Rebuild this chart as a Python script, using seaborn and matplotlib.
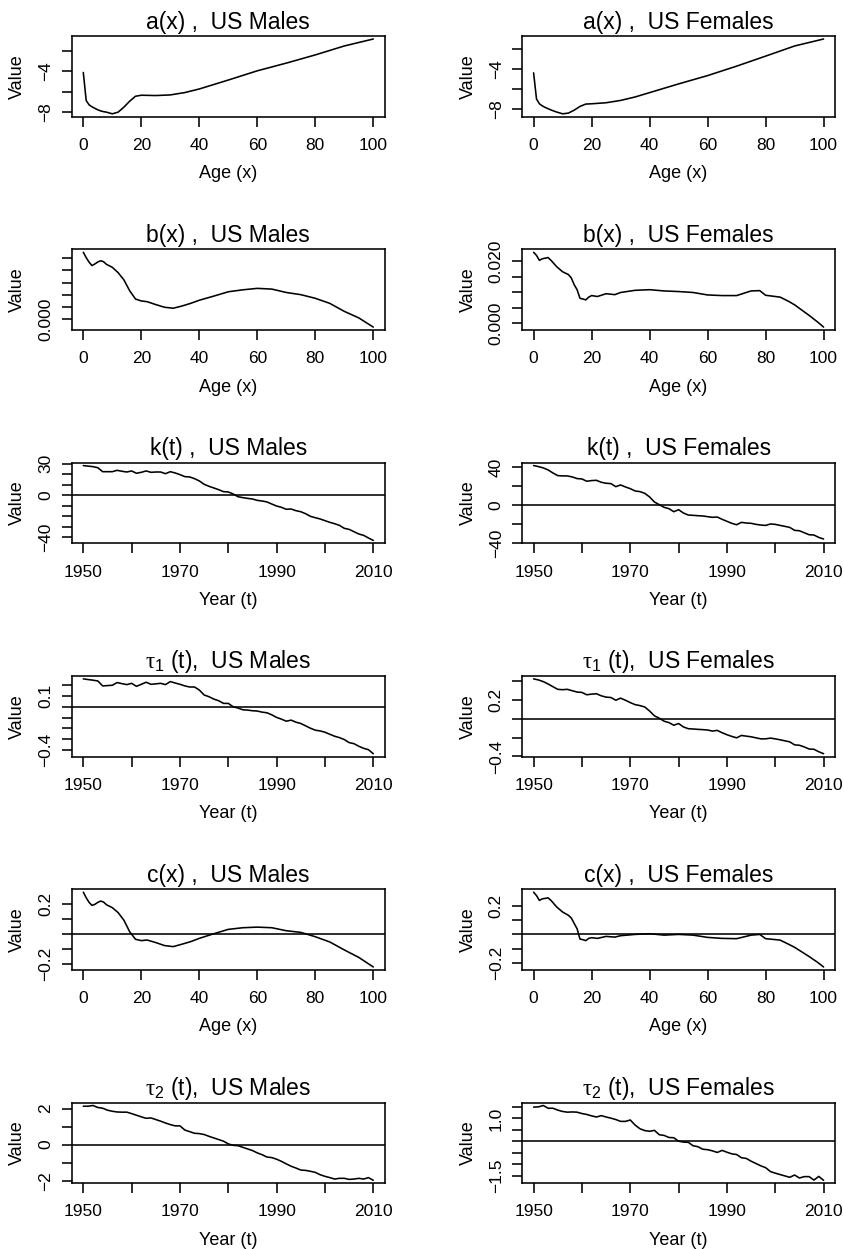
import matplotlib
matplotlib.use("Agg")
import matplotlib.pyplot as plt
import seaborn as sns
import numpy as np
import pandas as pd

# ---------------- data ----------------
age_a_m = [0, 1, 2, 3, 4, 5, 6, 7, 8, 10, 12, 14, 16, 18, 20, 25, 30, 35, 40, 50, 60, 70, 80, 90, 100]
ax_m = [-4.10, -6.84, -7.26, -7.45, -7.60, -7.74, -7.85, -7.92, -7.97, -8.13, -7.97, -7.48, -6.90,
        -6.42, -6.32, -6.35, -6.29, -6.06, -5.71, -4.84, -3.94, -3.19, -2.39, -1.52, -0.84]
age_a_f = [0, 1, 2, 3, 4, 5, 6, 7, 8, 10, 12, 14, 16, 18, 20, 25, 30, 35, 40, 50, 60, 70, 80, 90, 100]
ax_f = [-4.39, -6.97, -7.44, -7.65, -7.80, -7.93, -8.05, -8.16, -8.26, -8.43, -8.36, -8.07, -7.70,
        -7.47, -7.44, -7.34, -7.11, -6.77, -6.34, -5.48, -4.66, -3.73, -2.74, -1.74, -1.05]

age_b_m = [0, 1, 2, 3, 4, 5, 6, 7, 8, 10, 12, 14, 16, 18, 20, 22, 25, 28, 31, 34, 37, 40, 45, 50,
           55, 60, 65, 70, 75, 80, 85, 90, 95, 100]
bx_m = [0.0275, 0.0253, 0.0234, 0.0220, 0.0227, 0.0235, 0.0240, 0.0236, 0.0225, 0.0213, 0.0191,
        0.0161, 0.0116, 0.0082, 0.0074, 0.0071, 0.0059, 0.0048, 0.0044, 0.0053, 0.0064, 0.0077,
        0.0094, 0.0112, 0.0120, 0.0126, 0.0123, 0.0109, 0.0100, 0.0085, 0.0064, 0.0031, 0.0004, -0.0034]
age_b_f = [0, 1, 2, 3, 5, 6, 8, 10, 12, 13, 14, 15, 16, 17, 18, 19, 20, 22, 25, 28, 30, 35, 40, 45,
           50, 55, 60, 65, 70, 75, 78, 80, 85, 88, 90, 95, 98, 100]
bx_f = [0.0229, 0.0219, 0.0203, 0.0208, 0.0212, 0.0203, 0.0182, 0.0166, 0.0157, 0.0146, 0.0124,
        0.0108, 0.0080, 0.0078, 0.0075, 0.0084, 0.0089, 0.0086, 0.0095, 0.0092, 0.0099, 0.0106,
        0.0108, 0.0104, 0.0102, 0.0099, 0.0091, 0.0089, 0.0089, 0.0104, 0.0105, 0.0090, 0.0084,
        0.0070, 0.0059, 0.0025, 0.0003, -0.0013]

years = list(range(1950, 2011))
kt_m = [28.3, 27.8, 27.3, 26.3, 22.5, 22.5, 22.5, 23.8, 22.9, 22.2, 23.2, 21.0, 21.9, 23.2, 21.9,
        22.2, 22.2, 20.6, 22.5, 21.3, 19.7, 17.8, 17.5, 15.9, 13.7, 10.5, 8.6, 7.0, 5.4, 3.5, 3.2,
        1.3, -1.3, -2.2, -2.9, -3.5, -4.8, -5.4, -6.3, -8.3, -10.2, -11.4, -13.3, -13.0, -14.6,
        -15.6, -17.5, -20.0, -21.3, -22.5, -24.1, -25.7, -27.0, -28.6, -31.4, -32.4, -34.6, -36.8,
        -38.1, -40.6, -42.9]
kt_f = [41.8, 40.7, 39.3, 37.2, 34.0, 31.2, 30.9, 30.9, 29.8, 28.1, 27.7, 25.3, 26.0, 26.3, 24.2,
        23.2, 22.8, 19.6, 21.4, 19.3, 17.5, 15.1, 14.4, 12.6, 8.8, 3.5, 0.7, -2.1, -3.5, -6.7, -4.6,
        -8.1, -10.2, -10.5, -10.9, -11.2, -11.9, -12.6, -12.3, -14.7, -16.8, -18.9, -20.4, -17.9,
        -18.6, -18.9, -20.0, -20.7, -21.1, -19.6, -20.0, -21.1, -22.1, -23.2, -26.3, -26.7, -28.8,
        -30.9, -31.2, -33.7, -35.4]
tau1_m = [0.258, 0.252, 0.246, 0.239, 0.193, 0.196, 0.199, 0.224, 0.214, 0.205, 0.217, 0.189,
          0.208, 0.227, 0.208, 0.212, 0.217, 0.205, 0.233, 0.220, 0.208, 0.193, 0.183, 0.183, 0.155,
          0.109, 0.093, 0.071, 0.056, 0.031, 0.031, 0.000, -0.012, -0.028, -0.031, -0.037, -0.040,
          -0.050, -0.056, -0.075, -0.099, -0.115, -0.134, -0.124, -0.143, -0.155, -0.177, -0.199,
          -0.217, -0.224, -0.236, -0.255, -0.273, -0.286, -0.304, -0.332, -0.342, -0.366, -0.385,
          -0.398, -0.435]
tau1_f = [0.425, 0.414, 0.396, 0.371, 0.342, 0.314, 0.310, 0.314, 0.299, 0.285, 0.281, 0.256,
          0.263, 0.267, 0.245, 0.231, 0.227, 0.198, 0.220, 0.198, 0.173, 0.151, 0.141, 0.126, 0.083,
          0.032, 0.007, -0.025, -0.040, -0.068, -0.050, -0.086, -0.105, -0.108, -0.112, -0.115,
          -0.119, -0.130, -0.123, -0.148, -0.169, -0.187, -0.202, -0.177, -0.184, -0.191, -0.202,
          -0.213, -0.213, -0.205, -0.213, -0.223, -0.234, -0.245, -0.277, -0.281, -0.299, -0.321,
          -0.324, -0.350, -0.371]

age_c_m = [0, 1, 2, 3, 4, 5, 6, 7, 8, 10, 12, 14, 16, 18, 20, 22, 25, 28, 31, 34, 37, 40, 45, 50,
           55, 60, 65, 70, 75, 80, 85, 90, 95, 100]
cx_m = [0.277, 0.240, 0.209, 0.189, 0.196, 0.209, 0.218, 0.211, 0.193, 0.174, 0.141, 0.090, 0.013,
        -0.037, -0.046, -0.042, -0.059, -0.079, -0.086, -0.070, -0.053, -0.031, 0.000, 0.029,
        0.040, 0.044, 0.040, 0.020, 0.009, -0.020, -0.055, -0.108, -0.158, -0.222]
age_c_f = [0, 1, 2, 3, 5, 6, 8, 10, 12, 13, 14, 15, 16, 17, 18, 19, 20, 22, 25, 28, 30, 35, 40, 45,
           50, 55, 60, 65, 70, 75, 78, 80, 85, 88, 90, 95, 98, 100]
cx_f = [0.298, 0.274, 0.240, 0.251, 0.258, 0.240, 0.193, 0.158, 0.135, 0.116, 0.077, 0.040, -0.033,
        -0.037, -0.044, -0.028, -0.023, -0.028, -0.014, -0.019, -0.009, 0.000, 0.005, -0.005, 0.000,
        -0.005, -0.021, -0.028, -0.030, -0.005, 0.000, -0.030, -0.040, -0.070, -0.091, -0.156,
        -0.198, -0.230]

tau2_m = [2.13, 2.13, 2.17, 2.06, 2.02, 1.91, 1.85, 1.81, 1.80, 1.80, 1.72, 1.63, 1.54, 1.46, 1.48,
          1.39, 1.30, 1.20, 1.11, 1.04, 1.04, 0.81, 0.72, 0.63, 0.61, 0.56, 0.46, 0.37, 0.28, 0.19,
          0.04, -0.04, -0.06, -0.15, -0.24, -0.33, -0.46, -0.56, -0.69, -0.72, -0.81, -0.93, -1.07,
          -1.20, -1.30, -1.41, -1.43, -1.48, -1.54, -1.67, -1.76, -1.83, -1.91, -1.87, -1.87, -1.93,
          -1.91, -1.87, -1.91, -1.83, -1.98]
tau2_f = [1.49, 1.50, 1.56, 1.44, 1.44, 1.36, 1.30, 1.27, 1.28, 1.27, 1.21, 1.17, 1.11, 1.06, 1.12,
          1.06, 1.01, 0.95, 0.87, 0.87, 0.93, 0.71, 0.55, 0.47, 0.44, 0.48, 0.29, 0.26, 0.17, 0.16,
          0.01, -0.03, -0.04, -0.19, -0.23, -0.34, -0.36, -0.41, -0.48, -0.39, -0.47, -0.54, -0.57,
          -0.71, -0.74, -0.86, -0.96, -1.06, -1.14, -1.31, -1.38, -1.44, -1.50, -1.56, -1.46, -1.59,
          -1.53, -1.53, -1.68, -1.52, -1.69]

age_ticks = [0, 20, 40, 60, 80, 100]
age_labels = ["0", "20", "40", "60", "80", "100"]
year_ticks = [1950, 1960, 1970, 1980, 1990, 2000, 2010]
year_labels = ["1950", "", "1970", "", "1990", "", "2010"]

titles = [
    ("a(x) ,  US Males", "a(x) ,  US Females"),
    ("b(x) ,  US Males", "b(x) ,  US Females"),
    ("k(t) ,  US Males", "k(t) ,  US Females"),
    (r"$\mathrm{\tau}_{\mathsf{1}}$ (t),  US Males", r"$\mathrm{\tau}_{\mathsf{1}}$ (t),  US Females"),
    ("c(x) ,  US Males", "c(x) ,  US Females"),
    (r"$\mathrm{\tau}_{\mathsf{2}}$ (t),  US Males", r"$\mathrm{\tau}_{\mathsf{2}}$ (t),  US Females"),
]

M = "\u2212"
panels = [
    [(age_a_m, ax_m, "age", [-8, -6, -4, -2], [M + "8", "", M + "4", ""], False),
     (age_a_f, ax_f, "age", [-8, -6, -4, -2], [M + "8", "", M + "4", ""], False)],
    [(age_b_m, bx_m, "age", [0, 0.005, 0.010, 0.015, 0.020, 0.025], ["0.000", "", "", "", "", ""], False),
     (age_b_f, bx_f, "age", [0, 0.005, 0.010, 0.015, 0.020], ["0.000", "", "", "", "0.020"], False)],
    [(years, kt_m, "year", [-40, -30, -20, -10, 0, 10, 20, 30], [M + "40", "", "", "", "0", "", "", "30"], True),
     (years, kt_f, "year", [-40, -20, 0, 20, 40], [M + "40", "", "0", "", "40"], True)],
    [(years, tau1_m, "year", [-0.4, -0.3, -0.2, -0.1, 0.0, 0.1, 0.2], [M + "0.4", "", "", "", "", "0.1", ""], True),
     (years, tau1_f, "year", [-0.4, -0.2, 0.0, 0.2, 0.4], [M + "0.4", "", "", "0.2", ""], True)],
    [(age_c_m, cx_m, "age", [-0.2, -0.1, 0.0, 0.1, 0.2], [M + "0.2", "", "", "", "0.2"], True),
     (age_c_f, cx_f, "age", [-0.2, -0.1, 0.0, 0.1, 0.2], [M + "0.2", "", "", "", "0.2"], True)],
    [(years, tau2_m, "year", [-2, -1, 0, 1, 2], [M + "2", "", "0", "", "2"], True),
     (years, tau2_f, "year", [-1.5, -1.0, -0.5, 0.0, 0.5, 1.0, 1.5], [M + "1.5", "", "", "", "", "1.0", ""], True)],
]

# ---------------- style ----------------
sns.set_theme(style="white")
plt.rcParams["font.family"] = ["Liberation Sans", "DejaVu Sans"]
plt.rcParams["mathtext.fontset"] = "custom"
plt.rcParams["mathtext.rm"] = "Liberation Serif"
plt.rcParams["mathtext.sf"] = "Liberation Sans"
plt.rcParams["mathtext.it"] = "Liberation Serif:italic"
plt.rcParams["axes.edgecolor"] = "black"
plt.rcParams["axes.linewidth"] = 1.0

W, H = 844, 1249
fig = plt.figure(figsize=(W / 100, H / 100), dpi=100)

col_left = [71.7, 522.0]
box_w = 313.2
box_h = 80.8
row_top0 = 36.0
row_step = 213.3
LW = 1.15

for r in range(6):
    for c in range(2):
        x, y, kind, yt, yl, zero = panels[r][c]
        top = row_top0 + r * row_step
        ax = fig.add_axes([col_left[c] / W, 1 - (top + box_h) / H, box_w / W, box_h / H])
        df = pd.DataFrame({"x": x, "y": y})
        sns.lineplot(data=df, x="x", y="y", ax=ax, color="black", linewidth=LW,
                     estimator=None, sort=False)
        ax.margins(x=0.04, y=0.04)
        if zero:
            ax.axhline(0, color="black", linewidth=LW)
        if kind == "age":
            ax.set_xticks(age_ticks, age_labels)
            xlabel = "Age (x)"
        else:
            ax.set_xticks(year_ticks, year_labels)
            xlabel = "Year (t)"
        ax.set_yticks(yt, yl, rotation=90, va="center")
        ax.tick_params(axis="both", which="major", direction="out", length=7.2, width=LW,
                       color="black", labelsize=12.5, labelcolor="black", bottom=True, left=True)
        ax.tick_params(axis="x", pad=8.0)
        ax.tick_params(axis="y", pad=6.0)
        ax.set_xlabel(xlabel, fontsize=13, color="black")
        ax.set_ylabel("Value", fontsize=13, color="black")
        ax.xaxis.set_label_coords(0.5, -0.60)
        ax.yaxis.set_label_coords(-0.145, 0.5)
        ax.set_title(titles[r][c], fontsize=16.5, pad=5.4, color="black")
        for s in ax.spines.values():
            s.set_visible(True)
            s.set_color("black")
            s.set_linewidth(LW)

fig.savefig("out.png", dpi=100, facecolor="white")
